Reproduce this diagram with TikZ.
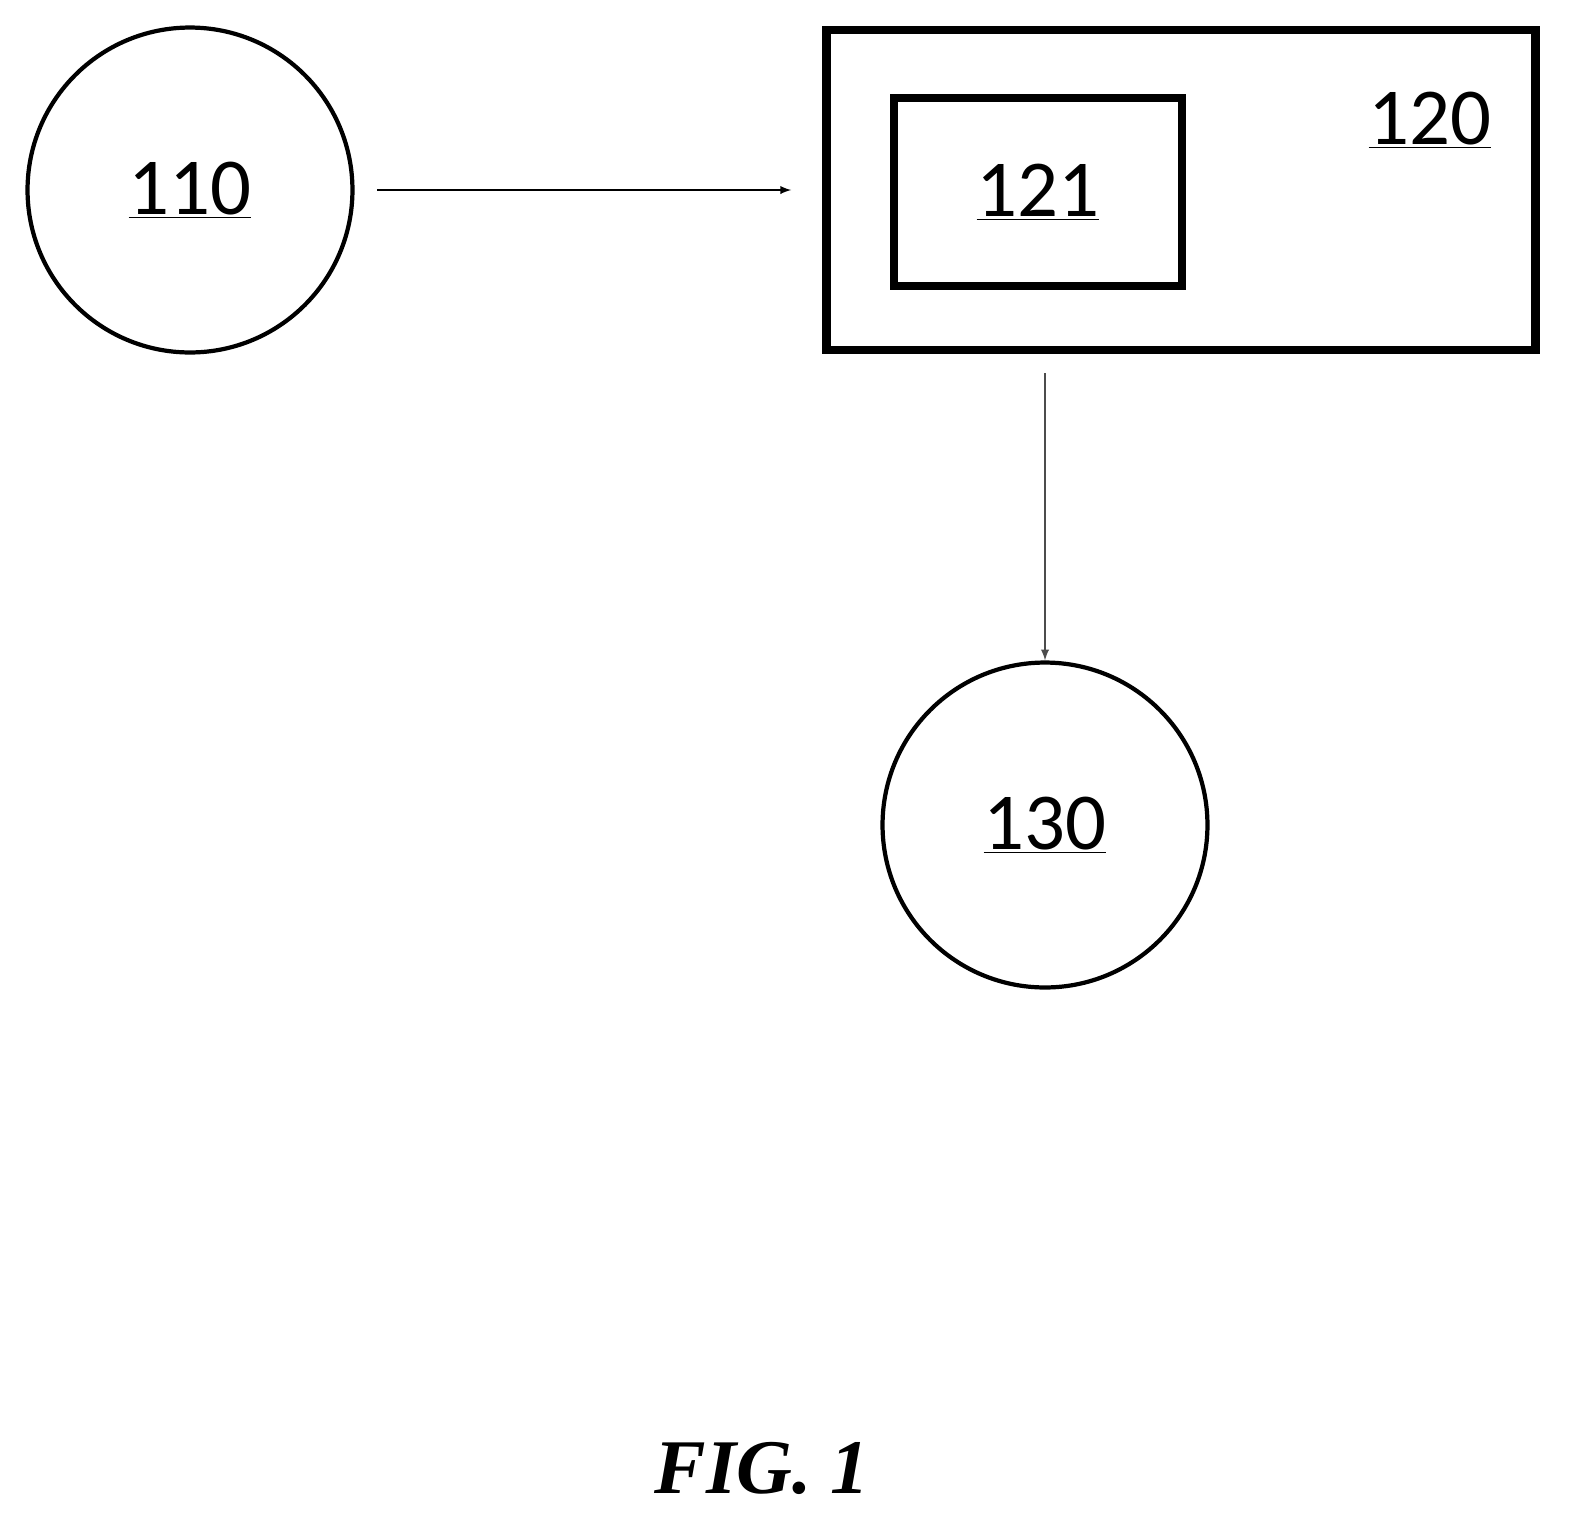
\documentclass[tikz,border=0pt]{standalone}
\usepackage{fontspec}
\setmainfont{Liberation Serif}
\newfontfamily\labelfont{Carlito}
\usetikzlibrary{arrows,positioning,shapes}
\begin{document}
\begin{tikzpicture}[x=0.02cm,y=-0.02cm]
	\tikzstyle{unit}
	  =[draw, circle, line width=2.4pt, minimum size=6.5cm, inner sep=0pt]
	\tikzstyle{num}
	  =[font=\labelfont\fontsize{46}{50}\selectfont]
	\tikzstyle{link}
	  =[-latex, line width=1.1pt]
	\useasboundingbox (0,0) rectangle (1576,1526);

	\node[unit] (110)
	  at (190,190) {};
	\node[num] at (110.center) {\underline{110}};
	\node[draw, line width=5pt, minimum width=14.18cm, minimum height=6.4cm] (120)
	  at (1181,190) {};
	\node[num] (l120)
	  at (1430,120) {\underline{120}};
	\node[draw, line width=4.5pt, minimum width=5.75cm, minimum height=3.75cm] (121)
	  at (1038,192) {};
	\node[num] at (121.center) {\underline{121}};
	\node[unit] (130)
	  at (1045,825) {};
	\node[num] at (130.center) {\underline{130}};

	\draw[link] (110) -- (120.west |- 110) [shorten <=0.45cm, shorten >=0.62cm];
	\draw[link, draw=black!70] (120.south -| 130) -- (130) [shorten <=0.38cm];

	\node[font=\bfseries\itshape\fontsize{44}{48}\selectfont] (fig)
	  at (762,1468) {FIG. 1};
\end{tikzpicture}
\end{document}
